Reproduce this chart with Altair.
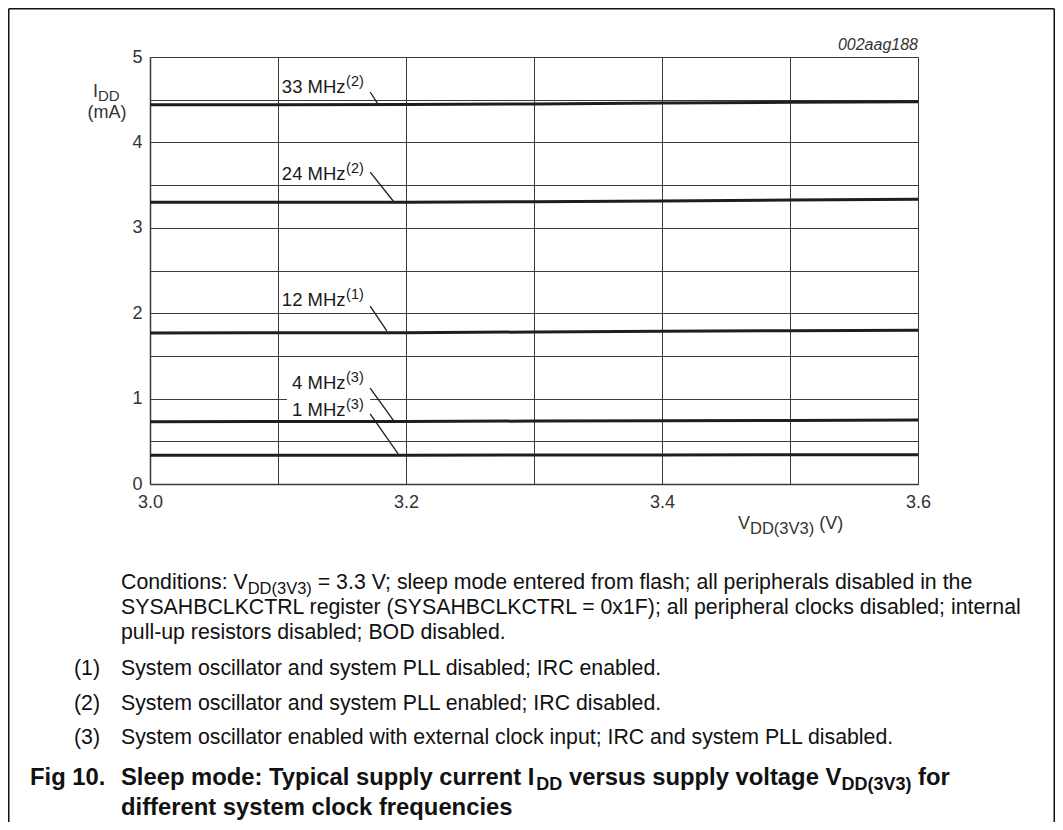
import altair as alt
import pandas as pd

# ---------------- data ----------------
voltage = [3.0, 3.1, 3.2, 3.3, 3.4, 3.5, 3.6]
idd_33 = [4.44, 4.44, 4.445, 4.45, 4.46, 4.47, 4.475]
idd_24 = [3.30, 3.30, 3.30, 3.305, 3.315, 3.325, 3.335]
idd_12 = [1.768, 1.77, 1.772, 1.78, 1.788, 1.795, 1.80]
idd_4 = [0.73, 0.731, 0.733, 0.737, 0.74, 0.744, 0.748]
idd_1 = [0.336, 0.337, 0.338, 0.339, 0.34, 0.342, 0.343]
series_names = ["33 MHz", "24 MHz", "12 MHz", "4 MHz", "1 MHz"]
series_values = [idd_33, idd_24, idd_12, idd_4, idd_1]
series_notes = ["(2)", "(2)", "(1)", "(3)", "(3)"]

x_ticks = [3.0, 3.1, 3.2, 3.3, 3.4, 3.5, 3.6]
y_ticks = [0, 0.5, 1, 1.5, 2, 2.5, 3, 3.5, 4, 4.5, 5]

# label anchors (data units) and leader lines (data units)
label_x = [3.103, 3.103, 3.103, 3.111, 3.111]
label_y = [4.578, 3.560, 2.084, 1.112, 0.796]
leader_x1 = [3.172, 3.172, 3.172, 3.172, 3.172]
leader_y1 = [4.59, 3.653, 2.084, 1.124, 0.820]
leader_x2 = [3.178, 3.190, 3.185, 3.190, 3.194]
leader_y2 = [4.45, 3.314, 1.792, 0.749, 0.351]

notes = [
    ("(1)", "System oscillator and system PLL disabled; IRC enabled."),
    ("(2)", "System oscillator and system PLL enabled; IRC disabled."),
    ("(3)", "System oscillator enabled with external clock input; IRC and system PLL disabled."),
]

# ---------------- layout ----------------
FONT = "Liberation Sans"
W_PLOT, H_PLOT = 768, 427
PX0, PY0 = 150, 57          # page position of plot origin
PAD_L, PAD_T = PX0 - 8, PY0 - 8
PAD_R = 1047 - PAD_L - W_PLOT
PAD_B = 814 - PAD_T - H_PLOT
XMIN, XMAX = 3.0, 3.6

REG = {' ': 278, '!': 278, '(': 333, ')': 333, ',': 278, '-': 333, '.': 278, '/': 278,
       ':': 278, ';': 278, '=': 584,
       'A': 667, 'B': 667, 'C': 722, 'D': 722, 'E': 667, 'F': 611, 'G': 778, 'H': 722,
       'I': 278, 'J': 500, 'K': 667, 'L': 556, 'M': 833, 'N': 722, 'O': 778, 'P': 667,
       'Q': 778, 'R': 722, 'S': 667, 'T': 611, 'U': 722, 'V': 667, 'W': 944, 'X': 667,
       'Y': 667, 'Z': 611,
       'a': 556, 'b': 556, 'c': 500, 'd': 556, 'e': 556, 'f': 278, 'g': 556, 'h': 556,
       'i': 222, 'j': 222, 'k': 500, 'l': 222, 'm': 833, 'n': 556, 'o': 556, 'p': 556,
       'q': 556, 'r': 333, 's': 500, 't': 278, 'u': 556, 'v': 500, 'w': 722, 'x': 500,
       'y': 500, 'z': 500}
BOLD = dict(REG)
BOLD.update({':': 333, ';': 333, 'A': 722, 'B': 722, 'J': 556, 'K': 722, 'L': 611,
             'b': 611, 'd': 611, 'f': 333, 'g': 611, 'h': 611, 'i': 278, 'j': 278,
             'k': 556, 'l': 278, 'm': 889, 'n': 611, 'o': 611, 'p': 611, 'q': 611,
             'r': 389, 's': 556, 't': 333, 'u': 611, 'v': 556, 'w': 778, 'x': 556,
             'y': 556, 'c': 556})


def tw(s, size, bold=False):
    tab = BOLD if bold else REG
    return sum(tab.get(c, 556) for c in s) / 1000.0 * size


def text_at(s, page_x, page_y, size, bold=False, italic=False, align="left", color="#111"):
    return alt.Chart(pd.DataFrame({"t": [s]})).mark_text(
        align=align, baseline="alphabetic", font=FONT, fontSize=size,
        fontWeight="bold" if bold else "normal",
        fontStyle="italic" if italic else "normal", color=color,
    ).encode(x=alt.value(page_x - PX0), y=alt.value(page_y - PY0), text="t:N")


def rich(segments, page_x, page_y, color="#111"):
    """segments: list of (text, size, dy, bold)"""
    out = []
    x = page_x
    for s, size, dy, bold in segments:
        lead = len(s) - len(s.lstrip(" "))
        x += tw(" " * lead, size, bold)
        s2 = s.lstrip(" ")
        out.append(text_at(s2, x, page_y + dy, size, bold=bold, color=color))
        x += tw(s2, size, bold)
    return out


# ---------------- chart ----------------
rows = []
for name, vals in zip(series_names, series_values):
    for v, i in zip(voltage, vals):
        rows.append({"V": v, "I": i, "series": name})
df = pd.DataFrame(rows)

xscale = alt.Scale(domain=[XMIN, XMAX], nice=False, zero=False)
yscale = alt.Scale(domain=[0, 5], nice=False, zero=False)

lines = alt.Chart(df).mark_line(color="#1e1e1e", strokeWidth=3).encode(
    x=alt.X("V:Q", scale=xscale, axis=alt.Axis(
        values=x_ticks, title=None, grid=True, gridColor="#3a3a3a", gridWidth=1,
        ticks=False, domainColor="#3a3a3a", domainWidth=1.5,
        labelExpr="(round(datum.value*10) % 2 == 0) ? format(datum.value, '.1f') : ''",
        labelFont=FONT, labelFontSize=18, labelColor="#333", labelPadding=9,
        labelOverlap=False, labelFlush=False)),
    y=alt.Y("I:Q", scale=yscale, axis=alt.Axis(
        values=y_ticks, title=None, grid=True, gridColor="#3a3a3a", gridWidth=1,
        ticks=False, domainColor="#3a3a3a", domainWidth=1.5,
        labelExpr="(datum.value % 1 == 0) ? format(datum.value, 'd') : ''",
        labelFont=FONT, labelFontSize=18, labelColor="#333", labelPadding=8,
        labelOverlap=False, labelFlush=False)),
    detail="series:N",
)

leaders = alt.Chart(pd.DataFrame({
    "x1": leader_x1, "y1": leader_y1, "x2": leader_x2, "y2": leader_y2})).mark_rule(
    color="#1e1e1e", strokeWidth=1.3).encode(
    x=alt.X("x1:Q", scale=xscale), y=alt.Y("y1:Q", scale=yscale),
    x2="x2:Q", y2="y2:Q")

mask = alt.Chart(pd.DataFrame({"x1": [3.107], "x2": [3.172], "y1": [0.97], "y2": [1.03]})).mark_rect(
    color="white").encode(x=alt.X("x1:Q", scale=xscale), x2="x2:Q",
                          y=alt.Y("y1:Q", scale=yscale), y2="y2:Q")

label_layers = []
for name, note, lx, ly in zip(series_names, series_notes, label_x, label_y):
    d = pd.DataFrame({"x": [lx], "y": [ly], "t": [name], "n": [note]})
    label_layers.append(alt.Chart(d).mark_text(
        align="left", baseline="alphabetic", font=FONT, fontSize=18.5, color="#1a1a1a").encode(
        x=alt.X("x:Q", scale=xscale), y=alt.Y("y:Q", scale=yscale), text="t:N"))
    label_layers.append(alt.Chart(d).mark_text(
        align="left", baseline="alphabetic", font=FONT, fontSize=14.5, color="#1a1a1a",
        dx=tw(name, 18.5) + 0.5, dy=-7).encode(
        x=alt.X("x:Q", scale=xscale), y=alt.Y("y:Q", scale=yscale), text="n:N"))

ann = []
# figure code
ann.append(text_at("002aag188", 918, 50, 16, italic=True, align="right", color="#333"))
# y title
ann += rich([("I", 18, 0, False), ("DD", 15, 4, False)], 93, 97, color="#333")
ann.append(text_at("(mA)", 107, 118, 18, align="center", color="#333"))
# x title
ann += rich([("V", 18, 0, False), ("DD(3V3)", 16.5, 5, False), (" (V)", 18, 0, False)], 738, 529, color="#333")

# caption
TX, NX, FX = 121, 74, 30
CS, CSUB = 21.3, 16.5
TS, TSUB = 23.8, 18
ann += rich([("Conditions: V", CS, 0, False), ("DD(3V3)", CSUB, 5, False),
             (" = 3.3 V; sleep mode entered from flash; all peripherals disabled in the", CS, 0, False)],
            TX, 589)
ann.append(text_at("SYSAHBCLKCTRL register (SYSAHBCLKCTRL = 0x1F); all peripheral clocks disabled; internal",
                   TX, 614, CS))
ann.append(text_at("pull-up resistors disabled; BOD disabled.", TX, 639, CS))
for k, (num, txt) in enumerate(notes):
    yb = 675 + 34.5 * k
    ann.append(text_at(num, NX, yb, CS))
    ann.append(text_at(txt, TX, yb, CS))
ann.append(text_at("Fig 10.", FX, 785, TS, bold=True))
ann += rich([("Sleep mode: Typical supply current I", TS, 0, True), ("DD", TSUB, 5, True),
             (" versus supply voltage V", TS, 0, True), ("DD(3V3)", TSUB, 5, True),
             (" for", TS, 0, True)], TX, 785)
ann.append(text_at("different system clock frequencies", TX, 815, TS, bold=True))

# frame
frame_df = pd.DataFrame({"a": [0]})
frame = [
    alt.Chart(frame_df).mark_rule(color="#111", strokeWidth=1.5).encode(
        x=alt.value(8.75 - PX0), y=alt.value(8.75 - PY0), y2=alt.value(830)),
    alt.Chart(frame_df).mark_rule(color="#111", strokeWidth=1.5).encode(
        x=alt.value(1054.25 - PX0), y=alt.value(8.75 - PY0), y2=alt.value(830)),
    alt.Chart(frame_df).mark_rule(color="#111", strokeWidth=1.5).encode(
        x=alt.value(8.75 - PX0), x2=alt.value(1054.25 - PX0), y=alt.value(8.75 - PY0)),
]

chart = alt.layer(lines, mask, leaders, *label_layers, *ann, *frame).properties(
    width=W_PLOT, height=H_PLOT,
    padding={"left": PAD_L, "top": PAD_T, "right": PAD_R, "bottom": PAD_B},
    autosize=alt.AutoSizeParams(type="none"),
    background="white",
).configure_view(stroke=None)

chart.save("out.html", embed_options={"renderer": "svg", "actions": False})
